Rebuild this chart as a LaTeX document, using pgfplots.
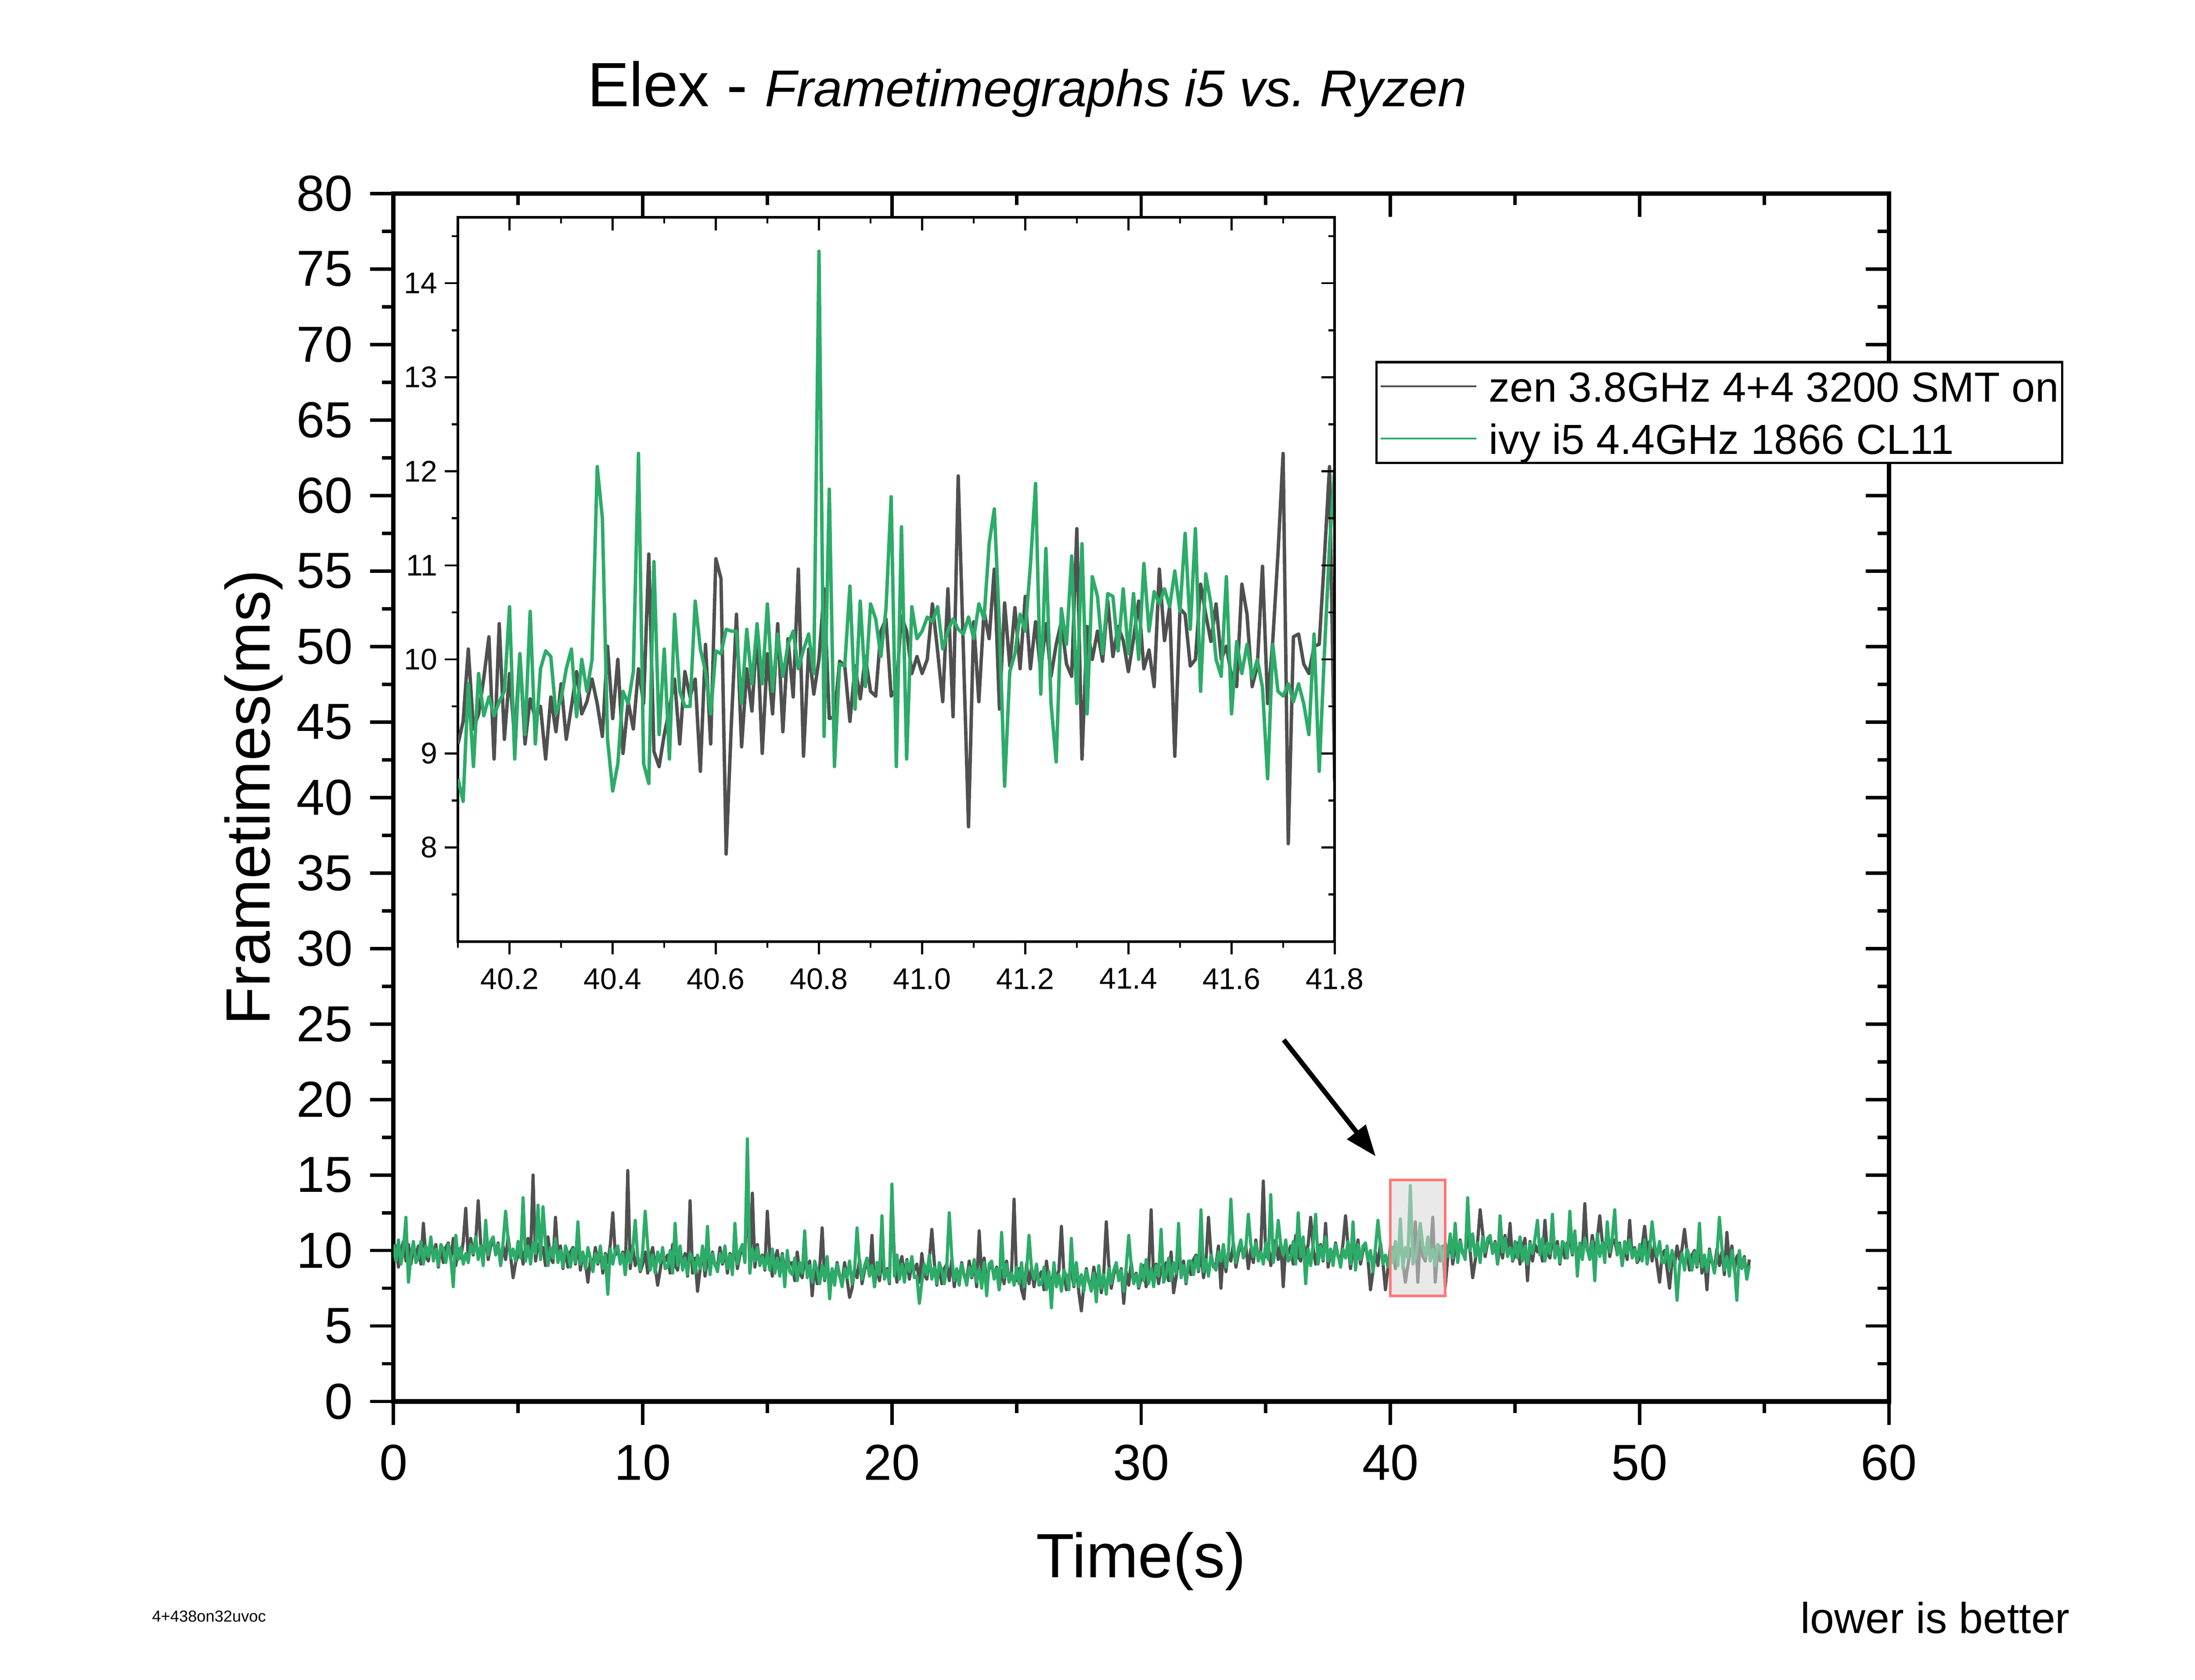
\documentclass[border=0pt]{standalone}
\usepackage{fontspec}
\setmainfont{Liberation Sans}
\usepackage{graphicx}
\usepackage{pgfplots}
\pgfplotsset{compat=1.18}
\usepackage{pgfplotstable}
\usetikzlibrary{arrows.meta}

\definecolor{zencol}{RGB}{80,80,80}
\definecolor{ivycol}{RGB}{44,172,104}
\definecolor{boxred}{RGB}{255,120,120}
\definecolor{boxfill}{RGB}{215,215,215}

\pgfplotstableread{
t zen ivy
0.0 9.5 10.4
0.1 10.3 9.3
0.2 8.9 10.7
0.3 10.0 9.1
0.4 10.6 10.1
0.5 9.3 12.2
0.6 10.4 7.9
0.7 9.1 9.6
0.8 10.2 10.6
0.9 9.7 9.2
1.0 10.3 9.5
1.1 9.1 10.6
1.2 11.8 9.1
1.3 9.6 10.3
1.4 9.3 9.6
1.5 10.6 10.9
1.6 9.7 9.3
1.7 10.4 10.1
1.8 8.9 9.0
1.9 10.2 10.4
2.0 9.2 10.1
2.1 10.2 9.2
2.2 10.5 10.4
2.3 9.4 9.5
2.4 10.8 7.6
2.5 9.0 11.0
2.6 10.1 9.4
2.7 9.5 10.2
2.8 10.6 9.1
2.9 12.8 9.8
3.0 9.5 9.2
3.1 10.8 10.4
3.2 9.7 9.8
3.3 10.6 10.9
3.4 13.3 9.4
3.5 10.4 10.3
3.6 9.8 9.0
3.7 11.0 12.0
3.8 9.4 9.7
3.9 10.3 10.6
4.0 10.7 10.9
4.1 9.8 9.7
4.2 10.5 10.4
4.3 9.0 9.0
4.4 10.3 10.6
4.5 9.4 12.6
4.6 10.9 10.7
4.7 9.6 9.5
4.8 8.2 10.1
4.9 9.2 9.3
5.0 9.7 10.6
5.1 10.5 9.5
5.2 9.1 13.5
5.3 10.2 9.3
5.4 10.8 10.3
5.5 9.5 9.1
5.6 15.0 10.5
5.7 9.3 9.8
5.8 10.4 13.0
5.9 9.9 9.4
6.0 10.2 12.9
6.1 9.0 10.5
6.2 10.9 9.0
6.3 9.5 10.2
6.4 9.2 9.5
6.5 12.2 10.8
6.6 9.6 9.2
6.7 10.3 10.0
6.8 8.8 8.9
6.9 10.1 10.3
7.0 8.9 9.8
7.1 9.9 8.9
7.2 10.2 10.1
7.3 9.1 9.2
7.4 10.5 11.9
7.5 8.7 9.1
7.6 9.8 9.9
7.7 9.2 8.8
7.8 7.9 10.2
7.9 9.4 9.5
8.0 8.9 8.6
8.1 10.2 9.8
8.2 9.1 9.2
8.3 10.0 10.3
8.4 8.5 8.8
8.5 9.8 9.7
8.6 9.2 7.1
8.7 10.4 10.1
8.8 12.5 9.1
8.9 9.7 10.0
9.0 10.1 10.3
9.1 9.2 9.1
9.2 9.9 9.8
9.3 8.4 8.4
9.4 15.3 10.0
9.5 8.8 9.2
9.6 10.3 10.1
9.7 9.0 12.0
9.8 9.6 9.5
9.9 8.6 8.7
10.0 9.1 10.0
10.1 9.9 12.6
10.2 8.5 10.3
10.3 9.6 8.7
10.4 10.2 9.7
10.5 8.9 8.5
10.6 7.7 9.9
10.7 8.7 9.2
10.8 9.8 10.2
10.9 9.3 8.8
11.0 9.7 8.9
11.1 8.5 10.0
11.2 10.4 8.5
11.3 9.0 11.8
11.4 8.7 9.0
11.5 10.0 10.3
11.6 9.1 8.7
11.7 9.8 9.5
11.8 8.3 8.4
11.9 13.3 9.8
12.0 8.5 9.4
12.1 9.5 8.5
12.2 7.3 9.7
12.3 8.7 8.8
12.4 10.1 10.3
12.5 8.3 8.7
12.6 9.4 11.6
12.7 8.8 8.4
12.8 9.9 9.8
12.9 9.0 9.1
13.0 8.9 8.6
13.1 10.2 9.8
13.2 9.1 9.2
13.3 10.0 10.3
13.4 8.5 8.8
13.5 9.8 9.7
13.6 9.2 8.4
13.7 10.4 11.8
13.8 8.8 9.1
13.9 9.7 10.0
14.0 10.2 10.4
14.1 9.3 9.2
14.2 14.7 17.4
14.3 8.5 8.5
14.4 13.8 10.1
14.5 8.9 9.3
14.6 10.4 10.2
14.7 9.1 9.0
14.8 9.7 9.6
14.9 8.7 8.8
15.0 12.6 9.8
15.1 9.7 8.7
15.2 8.3 10.1
15.3 9.4 8.5
15.4 10.0 9.5
15.5 8.7 8.3
15.6 9.8 9.7
15.7 8.5 7.6
15.8 9.6 10.0
15.9 9.1 8.6
16.0 9.2 8.4
16.1 8.0 9.5
16.2 9.9 8.0
16.3 8.5 9.2
16.4 8.2 8.5
16.5 9.5 11.3
16.6 8.6 8.2
16.7 9.3 9.0
16.8 7.0 7.9
16.9 9.1 9.3
17.0 7.8 8.7
17.1 8.8 7.8
17.2 11.5 9.0
17.3 8.0 8.1
17.4 9.4 9.6
17.5 7.6 6.8
17.6 8.7 8.8
17.7 8.1 7.7
17.8 9.2 9.1
17.9 8.3 8.4
18.0 7.9 7.6
18.1 9.2 8.8
18.2 8.1 8.2
18.3 6.9 9.3
18.4 7.5 7.8
18.5 8.8 8.7
18.6 8.2 11.5
18.7 9.4 9.1
18.8 7.8 8.1
18.9 8.7 9.0
19.0 9.3 9.5
19.1 8.4 8.3
19.2 11.0 9.0
19.3 7.6 7.6
19.4 8.9 9.2
19.5 8.0 8.4
19.6 9.5 12.3
19.7 8.2 8.1
19.8 8.8 8.7
19.9 7.8 7.9
20.0 13.9 14.4
20.1 9.3 8.3
20.2 7.9 9.7
20.3 9.0 8.1
20.4 9.6 9.1
20.5 8.3 7.9
20.6 9.4 9.3
20.7 8.1 8.6
20.8 9.2 9.6
20.9 8.7 8.2
21.0 9.1 8.3
21.1 7.9 6.5
21.2 9.8 7.9
21.3 8.4 9.1
21.4 8.1 8.4
21.5 9.4 9.7
21.6 11.4 8.1
21.7 9.2 8.9
21.8 7.7 7.8
21.9 9.0 9.2
22.0 7.8 8.7
22.1 8.8 7.8
22.2 9.1 9.0
22.3 8.0 12.5
22.4 9.4 9.6
22.5 7.6 8.0
22.6 8.7 8.8
22.7 8.1 7.7
22.8 9.2 9.1
22.9 8.3 8.4
23.0 8.0 7.7
23.1 9.3 8.9
23.2 8.2 8.3
23.3 9.1 9.4
23.4 7.6 7.9
23.5 11.3 8.8
23.6 8.3 7.5
23.7 9.5 9.2
23.8 7.9 7.0
23.9 8.8 9.1
24.0 9.1 9.3
24.1 8.2 8.1
24.2 8.9 8.8
24.3 7.4 7.4
24.4 8.7 11.2
24.5 7.8 8.2
24.6 9.3 9.1
24.7 8.0 7.9
24.8 8.6 8.5
24.9 13.4 7.7
25.0 8.0 8.9
25.1 8.8 7.8
25.2 7.4 9.2
25.3 6.8 7.6
25.4 9.1 8.6
25.5 7.8 11.0
25.6 8.9 8.8
25.7 7.6 8.1
25.8 8.7 9.1
25.9 8.2 7.7
26.0 8.6 7.8
26.1 7.4 8.9
26.2 9.3 7.4
26.3 7.9 8.6
26.4 7.6 6.2
26.5 8.9 9.2
26.6 8.0 7.6
26.7 8.7 8.4
26.8 11.6 7.3
26.9 8.5 8.7
27.0 7.4 8.3
27.1 8.4 7.4
27.2 8.7 10.8
27.3 7.6 7.7
27.4 9.0 9.2
27.5 7.2 7.6
27.6 6.0 8.4
27.7 7.7 7.3
27.8 8.8 8.7
27.9 7.9 8.0
28.0 7.6 7.3
28.1 8.9 8.5
28.2 7.8 6.6
28.3 8.7 9.0
28.4 7.2 7.5
28.5 8.5 8.4
28.6 11.9 7.1
28.7 9.1 8.8
28.8 7.5 7.8
28.9 8.4 8.7
29.0 9.0 9.2
29.1 8.1 8.0
29.2 8.8 8.7
29.3 6.5 7.3
29.4 8.6 8.9
29.5 7.7 11.0
29.6 9.2 9.0
29.7 7.9 7.8
29.8 8.5 8.4
29.9 7.5 7.6
30.0 8.2 9.1
30.1 9.0 8.0
30.2 7.6 9.4
30.3 8.7 7.8
30.4 12.7 8.8
30.5 8.0 7.6
30.6 9.1 9.0
30.7 7.8 8.3
30.8 8.9 11.4
30.9 8.4 7.9
31.0 9.2 8.4
31.1 8.0 9.5
31.2 9.9 8.0
31.3 7.2 9.2
31.4 8.2 8.5
31.5 9.5 11.8
31.6 8.6 8.2
31.7 9.3 9.0
31.8 7.8 7.9
31.9 9.1 9.3
32.0 8.4 9.3
32.1 9.4 8.4
32.2 9.7 9.6
32.3 8.6 8.7
32.4 10.0 12.7
32.5 8.2 8.6
32.6 9.3 9.4
32.7 12.2 8.3
32.8 9.8 9.7
32.9 8.9 9.0
33.0 9.0 8.7
33.1 10.3 9.9
33.2 7.5 9.3
33.3 10.1 10.4
33.4 8.6 8.9
33.5 9.9 9.8
33.6 9.3 13.4
33.7 10.5 10.2
33.8 8.9 9.2
33.9 9.8 10.1
34.0 10.5 10.7
34.1 9.6 9.5
34.2 10.3 10.2
34.3 8.8 12.4
34.4 10.1 10.4
34.5 9.2 9.6
34.6 10.7 10.5
34.7 9.4 9.3
34.8 10.0 9.9
34.9 14.6 9.1
35.0 9.6 10.5
35.1 10.4 9.4
35.2 9.0 13.7
35.3 10.1 9.2
35.4 10.7 10.2
35.5 9.4 12.0
35.6 10.5 10.4
35.7 7.6 9.7
35.8 10.3 10.7
35.9 9.8 9.3
36.0 10.3 9.5
36.1 9.1 10.6
36.2 11.0 9.1
36.3 9.6 12.5
36.4 9.3 9.6
36.5 10.6 10.9
36.6 9.7 7.8
36.7 10.4 10.1
36.8 12.2 9.0
36.9 10.2 10.4
37.0 9.1 12.4
37.1 10.1 9.1
37.2 10.4 10.3
37.3 9.3 9.4
37.4 11.8 10.9
37.5 8.9 9.3
37.6 10.0 10.1
37.7 9.4 9.0
37.8 10.5 10.4
37.9 9.6 9.7
38.0 9.2 8.9
38.1 10.5 10.1
38.2 12.3 9.5
38.3 10.3 10.6
38.4 8.8 9.1
38.5 10.1 11.9
38.6 9.5 8.7
38.7 10.7 10.4
38.8 9.1 9.4
38.9 10.0 10.3
39.0 10.3 10.5
39.1 9.4 9.3
39.2 7.4 10.0
39.3 8.6 8.6
39.4 9.9 10.2
39.5 9.0 12.0
39.6 10.5 10.3
39.7 9.2 9.1
39.8 7.4 9.7
39.9 8.8 8.9
40.0 9.4 10.3
40.1 10.2 9.2
40.2 8.8 10.6
40.3 9.9 9.0
40.4 10.5 12.1
40.5 9.2 8.8
40.6 7.9 10.2
40.7 9.0 9.5
40.8 10.1 14.3
40.9 9.6 9.1
41.0 11.9 9.5
41.1 7.9 10.6
41.2 11.0 11.8
41.3 9.6 10.3
41.4 9.3 9.6
41.5 10.6 10.9
41.6 9.7 9.3
41.7 12.2 10.1
41.8 7.9 9.0
41.9 10.2 10.4
42.0 9.3 10.2
42.1 10.3 9.3
42.2 7.6 10.5
42.3 9.5 9.6
42.4 10.9 11.1
42.5 9.1 9.5
42.6 10.2 11.8
42.7 9.6 9.2
42.8 10.7 10.6
42.9 9.8 9.9
43.0 9.7 9.4
43.1 11.0 13.5
43.2 9.9 10.0
43.3 8.2 11.1
43.4 9.3 9.6
43.5 10.6 10.5
43.6 12.7 9.2
43.7 11.2 10.9
43.8 9.6 9.9
43.9 10.5 10.8
44.0 10.8 11.0
44.1 9.9 9.8
44.2 10.6 10.5
44.3 9.1 9.1
44.4 10.4 12.3
44.5 9.5 9.9
44.6 11.0 10.8
44.7 9.7 9.6
44.8 11.8 10.2
44.9 9.3 9.4
45.0 9.7 10.6
45.1 10.5 9.5
45.2 9.1 10.9
45.3 10.2 9.3
45.4 10.8 10.3
45.5 8.0 9.1
45.6 10.6 10.5
45.7 9.3 9.8
45.8 10.4 10.8
45.9 9.9 12.0
46.0 10.5 9.7
46.1 9.3 10.8
46.2 12.0 9.3
46.3 9.8 10.5
46.4 9.5 9.8
46.5 10.8 12.4
46.6 9.9 9.5
46.7 10.6 10.3
46.8 9.1 9.2
46.9 10.4 10.6
47.0 9.5 10.4
47.1 10.5 9.5
47.2 10.8 12.6
47.3 9.7 9.8
47.4 11.1 11.3
47.5 9.3 8.3
47.6 10.4 10.5
47.7 9.8 9.4
47.8 13.1 10.8
47.9 10.0 10.1
48.0 9.7 9.4
48.1 11.0 10.6
48.2 9.9 8.0
48.3 10.8 11.1
48.4 12.3 9.6
48.5 10.6 10.5
48.6 10.0 9.2
48.7 11.2 11.9
48.8 9.6 9.9
48.9 10.5 10.8
49.0 10.7 12.7
49.1 9.8 9.7
49.2 10.5 10.4
49.3 9.0 9.0
49.4 10.3 10.6
49.5 9.4 9.8
49.6 12.0 10.7
49.7 9.6 9.5
49.8 10.2 10.1
49.9 9.2 9.3
50.0 9.5 10.4
50.1 10.3 9.3
50.2 11.6 10.7
50.3 10.0 9.1
50.4 10.6 10.1
50.5 9.3 11.9
50.6 10.4 10.3
50.7 9.1 9.6
50.8 7.9 10.6
50.9 9.7 9.2
51.0 10.0 9.2
51.1 8.8 10.3
51.2 7.5 8.8
51.3 9.3 10.0
51.4 9.0 9.3
51.5 10.3 6.7
51.6 9.4 9.0
51.7 10.1 9.8
51.8 11.4 8.7
51.9 9.9 10.1
52.0 8.7 9.6
52.1 9.7 8.7
52.2 10.0 9.9
52.3 8.9 9.0
52.4 10.3 11.8
52.5 8.5 8.9
52.6 9.6 9.7
52.7 7.4 8.6
52.8 10.1 10.0
52.9 9.2 9.3
53.0 8.8 8.5
53.1 10.1 9.7
53.2 9.0 12.2
53.3 9.9 10.2
53.4 8.4 8.7
53.5 11.2 9.6
53.6 9.1 8.3
53.7 10.3 10.0
53.8 8.7 9.0
53.9 9.6 6.7
54.0 9.8 10.0
54.1 8.9 8.8
54.2 9.6 9.5
54.3 8.1 8.1
54.4 9.4 9.0
}\maintable

\pgfplotstableread{
t zen ivy
40.10 9.10 8.73
40.11 9.34 8.49
40.12 10.11 9.74
40.13 9.26 8.86
40.14 9.42 9.85
40.15 9.80 9.40
40.16 10.24 9.60
40.17 8.94 9.40
40.18 10.38 9.55
40.19 9.15 9.66
40.20 9.85 10.56
40.21 9.15 8.94
40.22 10.06 10.06
40.23 9.10 9.20
40.24 9.58 10.51
40.25 9.37 9.10
40.26 9.50 9.90
40.27 8.94 10.09
40.28 9.60 10.03
40.29 9.23 9.42
40.30 9.74 9.58
40.31 9.15 9.90
40.32 9.50 10.11
40.33 9.87 9.39
40.34 9.42 10.00
40.35 9.55 9.66
40.36 9.79 10.00
40.37 9.53 12.05
40.38 9.18 11.50
40.39 10.14 9.15
40.40 9.37 8.60
40.41 10.00 8.89
40.42 9.00 9.66
40.43 9.55 9.53
40.44 9.26 9.87
40.45 9.90 12.19
40.46 9.53 8.89
40.47 11.12 8.68
40.48 9.02 11.04
40.49 8.86 9.20
40.50 9.20 10.11
40.51 9.47 8.94
40.52 9.79 10.48
40.53 9.10 9.66
40.54 9.87 9.50
40.55 9.60 9.50
40.56 9.79 10.62
40.57 8.81 10.11
40.58 10.16 9.87
40.59 9.10 9.42
40.60 11.07 10.09
40.61 10.86 10.06
40.62 7.93 10.32
40.63 9.30 10.30
40.64 10.48 10.30
40.65 9.07 9.53
40.66 9.90 10.32
40.67 9.45 9.74
40.68 10.32 10.38
40.69 9.00 9.74
40.70 10.06 10.59
40.71 9.42 9.66
40.72 10.38 10.27
40.73 9.23 9.82
40.74 10.22 10.16
40.75 9.60 10.30
40.76 10.96 9.90
40.77 8.97 10.10
40.78 10.11 10.27
40.79 9.63 9.85
40.80 10.00 14.34
40.81 10.75 9.18
40.82 9.37 11.81
40.83 9.39 8.86
40.84 9.98 9.95
40.85 9.93 9.93
40.86 9.34 10.78
40.87 9.93 9.47
40.88 9.58 10.62
40.89 10.03 9.71
40.90 9.66 10.59
40.91 9.61 10.43
40.92 10.30 10.03
40.93 10.43 10.54
40.94 9.61 11.73
40.95 9.69 8.86
40.96 10.46 11.41
40.97 10.30 8.94
40.98 9.85 10.56
40.99 10.03 10.22
41.00 9.85 10.30
41.01 10.00 10.45
41.02 10.59 10.40
41.03 10.09 10.56
41.04 9.55 10.11
41.05 10.75 10.30
41.06 9.39 10.43
41.07 11.95 10.32
41.08 10.10 10.27
41.09 8.22 10.45
41.10 10.40 10.22
41.11 9.55 10.59
41.12 10.51 10.43
41.13 10.22 11.23
41.14 10.96 11.60
41.15 9.47 10.35
41.16 10.60 8.65
41.17 9.93 9.87
41.18 10.55 10.06
41.19 9.90 10.48
41.20 10.67 10.30
41.21 9.90 11.00
41.22 10.40 11.87
41.23 9.87 9.63
41.24 10.38 11.18
41.25 9.82 9.53
41.26 10.16 8.91
41.27 10.40 10.54
41.28 9.95 10.16
41.29 9.82 11.10
41.30 11.39 9.53
41.31 8.94 11.23
41.32 10.35 9.42
41.33 10.00 10.88
41.34 10.30 10.67
41.35 9.98 10.06
41.36 10.62 10.70
41.37 10.03 10.67
41.38 10.35 10.09
41.39 10.20 10.75
41.40 9.87 10.06
41.41 10.22 10.70
41.42 10.62 10.00
41.43 9.90 11.02
41.44 10.10 10.30
41.45 9.71 10.72
41.46 10.96 10.59
41.47 10.20 10.75
41.48 10.56 10.56
41.49 8.97 10.94
41.50 10.54 10.51
41.51 10.48 11.34
41.52 9.93 10.32
41.53 10.00 11.39
41.54 10.80 9.66
41.55 10.48 10.91
41.56 10.19 10.59
41.57 10.59 10.00
41.58 10.00 9.82
41.59 10.14 10.88
41.60 9.82 9.42
41.61 9.71 10.19
41.62 10.80 9.85
41.63 10.48 10.16
41.64 9.71 9.80
41.65 9.93 10.00
41.66 10.99 9.70
41.67 9.53 8.73
41.68 10.20 10.16
41.69 11.12 9.66
41.70 12.19 9.61
41.71 8.04 9.74
41.72 10.24 9.55
41.73 10.27 9.74
41.74 9.95 9.53
41.75 9.85 9.20
41.76 10.14 10.27
41.77 10.16 8.81
41.78 11.07 10.06
41.79 12.05 11.20
41.80 8.70 12.03
}\insettable

\pgfplotsset{
  noarrows/.style={
    every outer x axis line/.append style={-},
    every outer y axis line/.append style={-},
    every inner x axis line/.append style={-},
    every inner y axis line/.append style={-},
    x axis line style={-}, y axis line style={-},
  },
  mainframe/.style={
    scale only axis, width=525.84pt, height=424.8pt,
    at={(138.36pt,97.92pt)}, anchor=south west,
    xmin=0, xmax=60, ymin=0, ymax=80,
    xtick={0,10,...,60}, ytick={0,5,...,80},
    minor x tick num=1, minor y tick num=1,
    major tick length=8.2pt, minor tick length=4pt,
    tick style={black, line width=1.2pt},
    axis line style={black, line width=1.6pt, line cap=rect},
    ticklabel style={font=\fontsize{17.8}{20}\selectfont},
    x tick label style={yshift=-3.5pt},
    y tick label style={xshift=-2.5pt},
    /pgf/number format/assume math mode=true,
    enlargelimits=false,
  },
  insetframe/.style={
    scale only axis, width=308.28pt, height=254.64pt,
    at={(161.04pt,259.68pt)}, anchor=south west,
    xmin=40.1, xmax=41.8, ymin=7, ymax=14.7,
    xtick={40.2,40.4,40.6,40.8,41.0,41.2,41.4,41.6,41.8},
    minor xtick={40.1,40.3,40.5,40.7,40.9,41.1,41.3,41.5,41.7},
    ytick={8,9,10,11,12,13,14},
    minor ytick={7.5,8.5,9.5,10.5,11.5,12.5,13.5,14.5},
    major tick length=4.6pt, minor tick length=2.2pt,
    tick style={black, line width=0.7pt},
    axis line style={black, line width=0.9pt, line cap=rect},
    ticklabel style={font=\fontsize{10.5}{12}\selectfont},
    x tick label style={/pgf/number format/fixed, /pgf/number format/fixed zerofill, /pgf/number format/precision=1, inner sep=4.6pt},
    y tick label style={inner sep=2.4pt},
    scaled ticks=false,
    /pgf/number format/assume math mode=true,
    enlargelimits=false,
  },
}

\begin{document}
\begin{tikzpicture}
\path[use as bounding box] (0,0) rectangle (771.84pt,590.76pt);

% main axis: bottom/left, ticks outside
\begin{axis}[mainframe,
  axis x line*=bottom, axis y line*=left, tick align=outside,
  xtick pos=left, ytick pos=left, xticklabel pos=left, yticklabel pos=left,
  noarrows,
  xlabel={Time(s)}, ylabel={Frametimes(ms)},
  label style={font=\fontsize{22}{26}\selectfont},
  xlabel style={at={(axis description cs:0.5,-0.1458)}, anchor=base},
  ylabel style={at={(axis description cs:-0.0826,0.5)}, anchor=base},
]
\addplot[zencol, line width=1.1pt, line join=round, no markers] table[x=t, y=zen] {\maintable};
\addplot[ivycol, line width=1.1pt, line join=round, no markers] table[x=t, y=ivy] {\maintable};
\fill[boxfill, opacity=0.55] (axis cs:40,7) rectangle (axis cs:42.2,14.67);
\draw[boxred, line width=1pt] (axis cs:40,7) rectangle (axis cs:42.2,14.67);
\draw[black, line width=1.7pt, -{Triangle[length=11pt, width=8pt]}] (axis cs:35.72,23.95) -- (axis cs:39.41,16.23);
\end{axis}

% main axis overlay: top/right, ticks inside, legend
\begin{axis}[mainframe,
  axis x line*=top, axis y line*=right, tick align=inside,
  xtick pos=right, ytick pos=right, xticklabel pos=right, yticklabel pos=right,
  noarrows,
  xticklabels={}, yticklabels={},
  legend cell align=left,
  legend image code/.code={\draw[#1] (0pt,0pt) -- (33.6pt,0pt);},
  legend style={at={(0.6566,0.8613)}, anchor=north west,
    draw=black, line width=0.8pt, fill=white,
    font=\fontsize{14.8}{18}\selectfont,
    inner xsep=1.2pt, inner ysep=2pt, row sep=5.4pt, column sep=4.2pt,
    nodes={inner sep=0pt, text height=12pt, text depth=1pt}},
]
\addlegendimage{zencol, line width=0.56pt}
\addlegendentry{zen 3.8GHz 4+4 3200 SMT on}
\addlegendimage{ivycol, line width=0.56pt}
\addlegendentry{ivy i5 4.4GHz 1866 CL11}
\end{axis}

% inset axis
\begin{axis}[insetframe,
  axis x line*=bottom, axis y line*=left, tick align=outside,
  xtick pos=left, ytick pos=left, xticklabel pos=left, yticklabel pos=left,
  noarrows,
  axis background/.style={fill=white},
]
\addplot[zencol, line width=1.2pt, line join=round, no markers] table[x=t, y=zen] {\insettable};
\addplot[ivycol, line width=1.2pt, line join=round, no markers] table[x=t, y=ivy] {\insettable};
\end{axis}

% inset overlay
\begin{axis}[insetframe,
  axis x line*=top, axis y line*=right, tick align=inside,
  xtick pos=right, ytick pos=right, xticklabel pos=right, yticklabel pos=right,
  noarrows,
  xticklabels={}, yticklabels={},
]
\end{axis}

\node[anchor=base west, inner sep=0pt, font=\fontsize{22}{26}\selectfont] at (206.4pt,553.3pt)
  {Elex - {\fontsize{18.2}{22}\selectfont\itshape Frametimegraphs i5 vs.\ Ryzen}};
\node[anchor=base west, inner sep=0pt, font=\fontsize{15.2}{18}\selectfont] at (633pt,16.44pt) {lower is better};
\node[anchor=base west, inner sep=0pt, font=\fontsize{5.6}{7}\selectfont] at (53.3pt,20.4pt) {4+438on32uvoc};
\end{tikzpicture}
\end{document}
